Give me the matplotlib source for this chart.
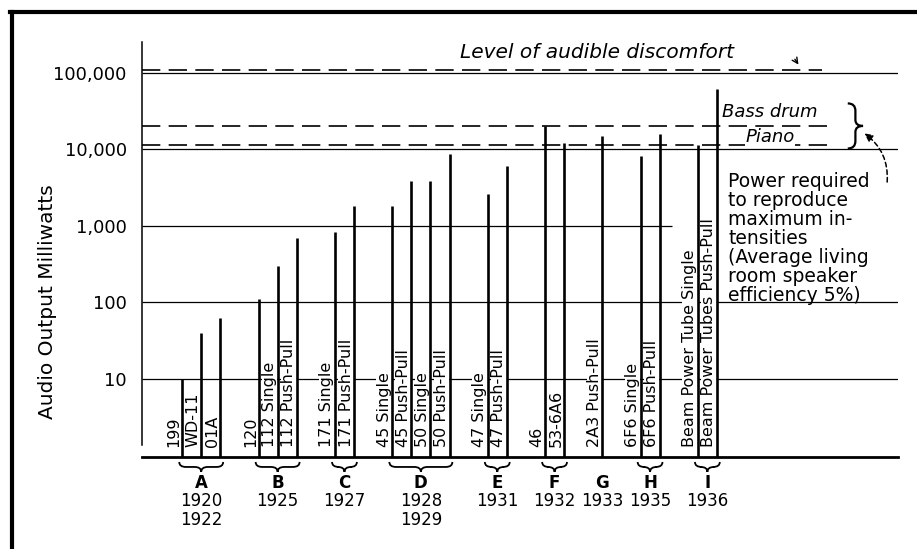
import matplotlib
matplotlib.use("Agg")
import matplotlib.pyplot as plt
import numpy as np
from matplotlib.path import Path
from matplotlib.patches import PathPatch
from matplotlib.lines import Line2D
from matplotlib.transforms import offset_copy

# --- data ---
tubes = ["199", "WD-11", "01A", "120", "112 Single", "112 Push-Pull",
         "171 Single", "171 Push-Pull", "45 Single", "45 Push-Pull",
         "50 Single", "50 Push-Pull", "47 Single", "47 Push-Pull", "46",
         "53-6A6", "2A3 Push-Pull", "6F6 Single", "6F6 Push-Pull",
         "Beam Power Tube Single", "Beam Power Tubes Push-Pull"]
output_mw = [10, 40, 62, 110, 300, 690, 840, 1800, 1800, 3900, 3900, 8600,
             2600, 6000, 20000, 12000, 15000, 8100, 15800, 11500, 61000]
tube_group = list("AAABBBCCDDDDEEFFGHHII")
groups = ["A", "B", "C", "D", "E", "F", "G", "H", "I"]
years = ["1920\n1922", "1925", "1927", "1928\n1929", "1931", "1932",
         "1933", "1935", "1936"]
tick_vals = [10, 100, 1000, 10000, 100000]
tick_labels = ["10", "100", "1,000", "10,000", "100,000"]
discomfort_mw = 110000
bass_drum_mw = 20000
piano_mw = 11500

# x slots: one step inside a group, two between groups
xpos = []
x = 2
for i, g in enumerate(tube_group):
    if i > 0:
        x += 1 if g == tube_group[i - 1] else 2
    xpos.append(x)
xpos = np.array(xpos)

W, H = 917, 549
fig = plt.figure(figsize=(W / 100, H / 100), dpi=100)
ax = fig.add_axes([142 / W, 92 / H, 756 / W, 415 / H])
ax.set_yscale("log")
ax.set_xlim(-0.1, 39.48)
ax.set_ylim(0.955, 254000)
ybase = 0.955

# grid lines (1,000 line stops before the note)
for v in tick_vals:
    ax.hlines(v, -0.1, 27.65 if v == 1000 else 39.48, color="black", lw=0.9, zorder=1)

# bars as thick vertical strokes
ax.vlines(xpos, ybase, output_mw, color="black", lw=1.9, zorder=4)

# rotated tube labels, left of each bar
lab_tr = offset_copy(ax.transData, fig=fig, x=-0.5, y=0, units="dots")
for xp, name in zip(xpos, tubes):
    ax.text(xp, 1.29, name, rotation=90, ha="right", va="bottom", fontsize=11.5,
            transform=lab_tr, zorder=3,
            bbox=dict(fc="white", ec="none", pad=0.2))

# group braces, letters and years
xtr = ax.get_xaxis_transform()
for g, yr in zip(groups, years):
    xs = xpos[np.array(tube_group) == g]
    xm = xs.mean()
    if len(xs) > 1:
        x0, x1 = xs.min() - 0.15, xs.max() + 0.15
        y0, y1, y2 = -0.012, -0.024, -0.036
        d = 0.35
        verts = [(x0, y0), (x0, y1), (x0 + d, y1), (xm - d, y1), (xm, y1), (xm, y2),
                 (xm, y1), (xm + d, y1), (x1 - d, y1), (x1, y1), (x1, y0)]
        codes = [Path.MOVETO, Path.CURVE3, Path.CURVE3, Path.LINETO, Path.CURVE3, Path.CURVE3,
                 Path.CURVE3, Path.CURVE3, Path.LINETO, Path.CURVE3, Path.CURVE3]
        ax.add_patch(PathPatch(Path(verts, codes), fc="none", ec="black", lw=1.3,
                               transform=xtr, clip_on=False))
    ax.text(xm, -0.063, g, ha="center", va="center", fontsize=12, fontweight="bold",
            transform=xtr)
    ax.text(xm, -0.084, yr, ha="center", va="top", fontsize=12, linespacing=1.05,
            transform=xtr)

# reference levels
dash = dict(color="black", lw=1.2, linestyle=(0, (11, 5)), zorder=2)
ax.hlines(discomfort_mw, -0.1, 35.5, **dash)
ax.hlines(bass_drum_mw, -0.1, 36.18, **dash)
ax.hlines(piano_mw, -0.1, 36.18, **dash)

ax.text(16.55, 187000, "Level of audible discomfort", style="italic", fontsize=14.5,
        ha="left", va="center")
ax.annotate("", xy=(34.35, 120000), xytext=(34.0, 162000),
            arrowprops=dict(arrowstyle="->", color="black", lw=1.0))
ax.text(30.27, 31000, "Bass drum", style="italic", fontsize=13, ha="left", va="center",
        bbox=dict(fc="white", ec="none", pad=0.5), zorder=3)
ax.text(32.78, 14500, "Piano", style="italic", fontsize=13, ha="center", va="center",
        bbox=dict(fc="white", ec="none", pad=0.2), zorder=3)

# right brace grouping bass drum and piano
bx = 36.85
yt, yb = 40000, 10300
ym = np.sqrt(yt * yb)
q = 0.4
bverts = [(bx, yt), (bx + q, yt), (bx + q, yt * 0.8), (bx + q, ym * 1.2), (bx + q, ym), (bx + 2 * q, ym),
          (bx + q, ym), (bx + q, ym / 1.2), (bx + q, yb / 0.8), (bx + q, yb), (bx, yb)]
bcodes = [Path.MOVETO, Path.CURVE3, Path.CURVE3, Path.LINETO, Path.CURVE3, Path.CURVE3,
          Path.CURVE3, Path.CURVE3, Path.LINETO, Path.CURVE3, Path.CURVE3]
ax.add_patch(PathPatch(Path(bverts, bcodes), fc="none", ec="black", lw=1.6, zorder=3))

ax.annotate("", xy=(37.6, 17000), xytext=(38.9, 3450),
            arrowprops=dict(arrowstyle="-|>", color="black", lw=1.1, linestyle=(0, (3, 2)),
                            connectionstyle="arc3,rad=0.3", mutation_scale=12))

ax.text(30.58, 5100, "Power required\nto reproduce\nmaximum in-\ntensities\n(Average living\n"
        "room speaker\nefficiency 5%)", fontsize=13.5, ha="left", va="top", linespacing=1.0,
        zorder=5)

# axes styling
for s in ["top", "right"]:
    ax.spines[s].set_visible(False)
ax.spines["bottom"].set_linewidth(2.0)
ax.spines["left"].set_linewidth(1.1)
ax.spines["left"].set_bounds(1.37, 254000)
ax.set_xticks([])
ax.set_yticks(tick_vals)
ax.set_yticklabels(tick_labels)
ax.minorticks_off()
ax.tick_params(axis="y", length=0, pad=11, labelsize=13)
fig.text(48 / W, 1 - 302 / H, "Audio Output Milliwatts", rotation=90, ha="center", va="center",
         fontsize=14.5)

# outer frame (cropped scan border)
fig.add_artist(Line2D([10 / W, 1], [1 - 12 / H, 1 - 12 / H], color="black", lw=3,
                      transform=fig.transFigure))
fig.add_artist(Line2D([12 / W, 12 / W], [0, 1 - 12 / H], color="black", lw=3,
                      transform=fig.transFigure))

fig.savefig("out.png", dpi=100)
